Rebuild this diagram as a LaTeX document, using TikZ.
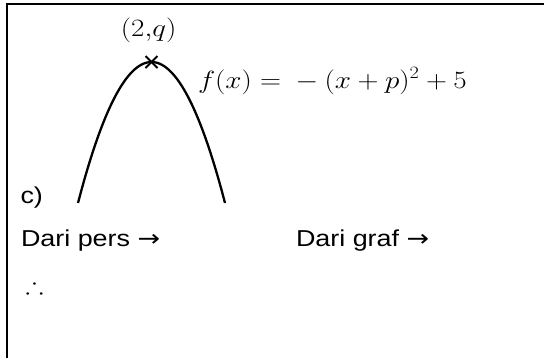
\documentclass[tikz,border=0pt]{standalone}
\usepackage{amssymb}
\usepackage{graphicx}
\usepackage{fontspec}
\setmainfont{Liberation Sans}
\newfontfamily\arrowfont{DejaVu Sans}
\begin{document}
\begin{tikzpicture}[x=1pt,y=-1pt,
  txt/.style={inner sep=0pt,outer sep=0pt,anchor=base west,font=\fontsize{23}{27}\selectfont},
  mth/.style={inner sep=0pt,outer sep=0pt,font=\fontsize{23}{27}\selectfont},
  framelines/.style={line width=2pt,line cap=rect},
  curveline/.style={line width=2.3pt},
  crossline/.style={line width=2pt}]
\useasboundingbox (0,0) rectangle (544,357);
% frame
\coordinate (fb) at (6.8,357);
\coordinate (fc) at (6.8,3.5);
\coordinate (fr) at (544,3.5);
\draw[framelines] (fb) -- (fc) -- (fr);
% parabola
\coordinate (v) at (151.5,62);
\draw[curveline] plot[domain=-73.5:73.5,samples=80] ({151.5+\x},{62+0.0261*\x*\x});
\draw[crossline] ([shift={(-6,-6)}]v) -- ([shift={(6,6)}]v);
\draw[crossline] ([shift={(-6,6)}]v) -- ([shift={(6,-6)}]v);
% labels
\node[mth,anchor=base] (pt) at (148.7,36.5) {\scalebox{1.17}[1]{$(2{,}q)$}};
\node[mth,anchor=base west] (fx) at (198,88) {\scalebox{1.17}[1]{$f(x)={}-(x+p)^2+5$}};
\node[txt] (c) at (20.5,203) {\scalebox{1.17}[1]{c)}};
\node[txt] (dp) at (21,246) {\scalebox{1.17}[1]{Dari pers {\arrowfont →}}};
\node[txt] (dg) at (296,246) {\scalebox{1.17}[1]{Dari graf {\arrowfont →}}};
\node[mth,anchor=base west] (th) at (25.5,293) {\scalebox{1.17}[1]{$\therefore$}};
\end{tikzpicture}
\end{document}
